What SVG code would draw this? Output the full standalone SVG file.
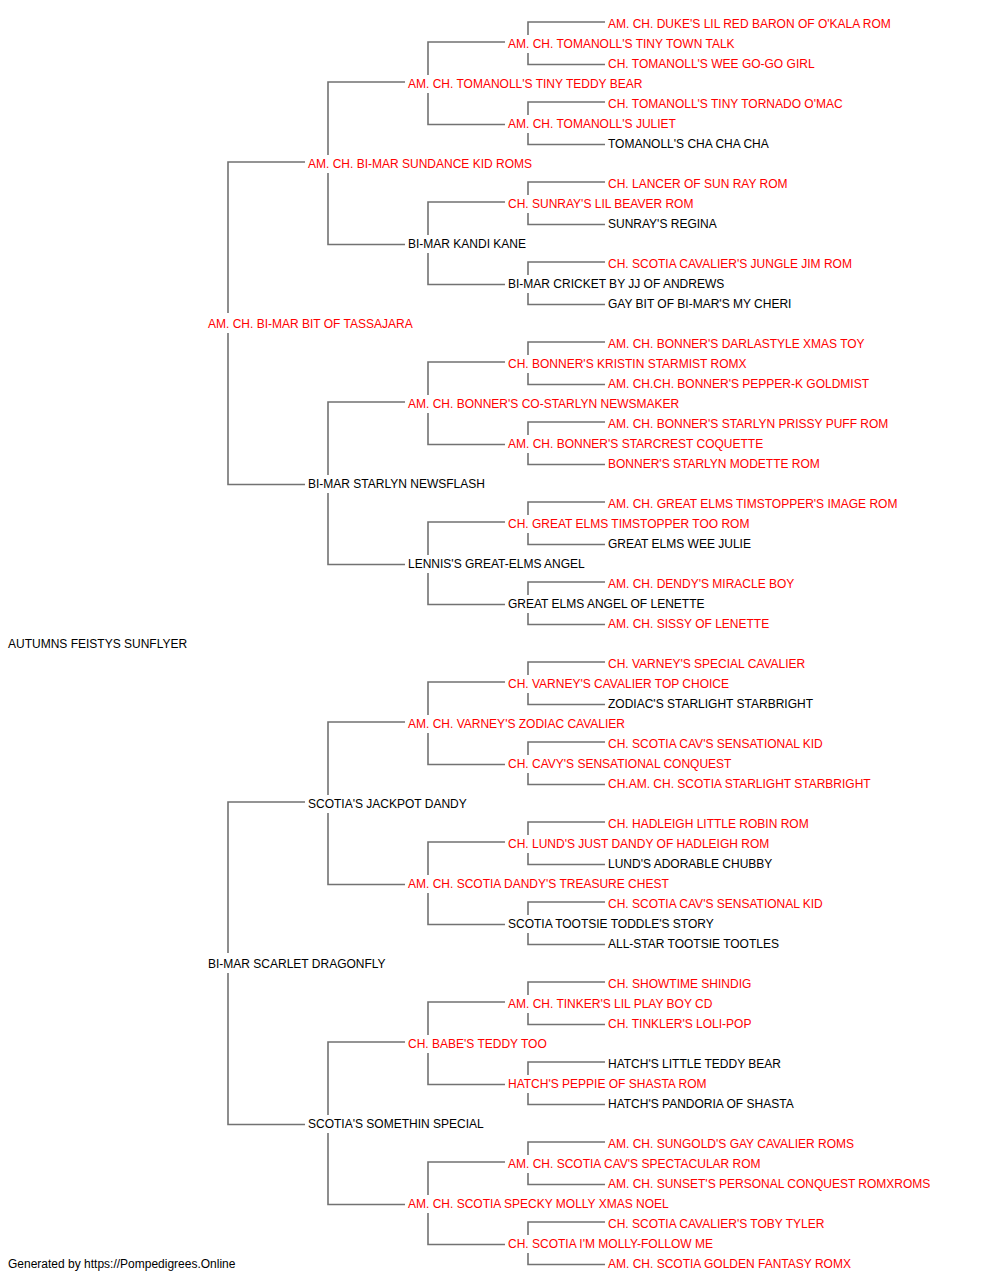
<svg xmlns="http://www.w3.org/2000/svg" width="1000" height="1280" viewBox="0 0 1000 1280">
<style>
text{font-family:"Liberation Sans",Arial,sans-serif;font-size:12px}
.r{fill:#ff0000}
.b{fill:#000000}
#connectors path{fill:none;stroke:#727272;stroke-width:1.6}
</style>
<rect x="0" y="0" width="1000" height="1280" fill="#ffffff"/>
<g id="connectors">
<path d="M228 313V162H305"/><path d="M228 333V484.5H305"/>
<path d="M228 953V802H305"/><path d="M228 973V1124.5H305"/>
<path d="M328 155V82H405"/><path d="M328 173V244.5H405"/>
<path d="M328 475V402H405"/><path d="M328 493V564.5H405"/>
<path d="M328 795V722H405"/><path d="M328 813V884.5H405"/>
<path d="M328 1115V1042H405"/><path d="M328 1133V1204.5H405"/>
<path d="M428 75V42H505"/><path d="M428 93V124.5H505"/>
<path d="M428 235V202H505"/><path d="M428 253V284.5H505"/>
<path d="M428 395V362H505"/><path d="M428 413V444.5H505"/>
<path d="M428 555V522H505"/><path d="M428 573V604.5H505"/>
<path d="M428 715V682H505"/><path d="M428 733V764.5H505"/>
<path d="M428 875V842H505"/><path d="M428 893V924.5H505"/>
<path d="M428 1035V1002H505"/><path d="M428 1053V1084.5H505"/>
<path d="M428 1195V1162H505"/><path d="M428 1213V1244.5H505"/>
<path d="M528 35V22H605"/><path d="M528 53V64.5H605"/>
<path d="M528 115V102H605"/><path d="M528 133V144.5H605"/>
<path d="M528 195V182H605"/><path d="M528 213V224.5H605"/>
<path d="M528 275V262H605"/><path d="M528 293V304.5H605"/>
<path d="M528 355V342H605"/><path d="M528 373V384.5H605"/>
<path d="M528 435V422H605"/><path d="M528 453V464.5H605"/>
<path d="M528 515V502H605"/><path d="M528 533V544.5H605"/>
<path d="M528 595V582H605"/><path d="M528 613V624.5H605"/>
<path d="M528 675V662H605"/><path d="M528 693V704.5H605"/>
<path d="M528 755V742H605"/><path d="M528 773V784.5H605"/>
<path d="M528 835V822H605"/><path d="M528 853V864.5H605"/>
<path d="M528 915V902H605"/><path d="M528 933V944.5H605"/>
<path d="M528 995V982H605"/><path d="M528 1013V1024.5H605"/>
<path d="M528 1075V1062H605"/><path d="M528 1093V1104.5H605"/>
<path d="M528 1155V1142H605"/><path d="M528 1173V1184.5H605"/>
<path d="M528 1235V1222H605"/><path d="M528 1253V1264.5H605"/>
</g>
<g id="n0"><text class="r" x="608" y="28">AM. CH. DUKE'S LIL RED BARON OF O'KALA ROM</text></g>
<g id="n1"><text class="r" x="508" y="48">AM. CH. TOMANOLL'S TINY TOWN TALK</text></g>
<g id="n2"><text class="r" x="608" y="68">CH. TOMANOLL'S WEE GO-GO GIRL</text></g>
<g id="n3"><text class="r" x="408" y="88">AM. CH. TOMANOLL'S TINY TEDDY BEAR</text></g>
<g id="n4"><text class="r" x="608" y="108">CH. TOMANOLL'S TINY TORNADO O'MAC</text></g>
<g id="n5"><text class="r" x="508" y="128">AM. CH. TOMANOLL'S JULIET</text></g>
<g id="n6"><text class="b" x="608" y="148">TOMANOLL'S CHA CHA CHA</text></g>
<g id="n7"><text class="r" x="308" y="168">AM. CH. BI-MAR SUNDANCE KID ROMS</text></g>
<g id="n8"><text class="r" x="608" y="188">CH. LANCER OF SUN RAY ROM</text></g>
<g id="n9"><text class="r" x="508" y="208">CH. SUNRAY'S LIL BEAVER ROM</text></g>
<g id="n10"><text class="b" x="608" y="228">SUNRAY'S REGINA</text></g>
<g id="n11"><text class="b" x="408" y="248">BI-MAR KANDI KANE</text></g>
<g id="n12"><text class="r" x="608" y="268">CH. SCOTIA CAVALIER'S JUNGLE JIM ROM</text></g>
<g id="n13"><text class="b" x="508" y="288">BI-MAR CRICKET BY JJ OF ANDREWS</text></g>
<g id="n14"><text class="b" x="608" y="308">GAY BIT OF BI-MAR'S MY CHERI</text></g>
<g id="n15"><text class="r" x="208" y="328">AM. CH. BI-MAR BIT OF TASSAJARA</text></g>
<g id="n16"><text class="r" x="608" y="348">AM. CH. BONNER'S DARLASTYLE XMAS TOY</text></g>
<g id="n17"><text class="r" x="508" y="368">CH. BONNER'S KRISTIN STARMIST ROMX</text></g>
<g id="n18"><text class="r" x="608" y="388">AM. CH.CH. BONNER'S PEPPER-K GOLDMIST</text></g>
<g id="n19"><text class="r" x="408" y="408">AM. CH. BONNER'S CO-STARLYN NEWSMAKER</text></g>
<g id="n20"><text class="r" x="608" y="428">AM. CH. BONNER'S STARLYN PRISSY PUFF ROM</text></g>
<g id="n21"><text class="r" x="508" y="448">AM. CH. BONNER'S STARCREST COQUETTE</text></g>
<g id="n22"><text class="r" x="608" y="468">BONNER'S STARLYN MODETTE ROM</text></g>
<g id="n23"><text class="b" x="308" y="488">BI-MAR STARLYN NEWSFLASH</text></g>
<g id="n24"><text class="r" x="608" y="508">AM. CH. GREAT ELMS TIMSTOPPER'S IMAGE ROM</text></g>
<g id="n25"><text class="r" x="508" y="528">CH. GREAT ELMS TIMSTOPPER TOO ROM</text></g>
<g id="n26"><text class="b" x="608" y="548">GREAT ELMS WEE JULIE</text></g>
<g id="n27"><text class="b" x="408" y="568">LENNIS'S GREAT-ELMS ANGEL</text></g>
<g id="n28"><text class="r" x="608" y="588">AM. CH. DENDY'S MIRACLE BOY</text></g>
<g id="n29"><text class="b" x="508" y="608">GREAT ELMS ANGEL OF LENETTE</text></g>
<g id="n30"><text class="r" x="608" y="628">AM. CH. SISSY OF LENETTE</text></g>
<g id="n31"><text class="b" x="8" y="648">AUTUMNS FEISTYS SUNFLYER</text></g>
<g id="n32"><text class="r" x="608" y="668">CH. VARNEY'S SPECIAL CAVALIER</text></g>
<g id="n33"><text class="r" x="508" y="688">CH. VARNEY'S CAVALIER TOP CHOICE</text></g>
<g id="n34"><text class="b" x="608" y="708">ZODIAC'S STARLIGHT STARBRIGHT</text></g>
<g id="n35"><text class="r" x="408" y="728">AM. CH. VARNEY'S ZODIAC CAVALIER</text></g>
<g id="n36"><text class="r" x="608" y="748">CH. SCOTIA CAV'S SENSATIONAL KID</text></g>
<g id="n37"><text class="r" x="508" y="768">CH. CAVY'S SENSATIONAL CONQUEST</text></g>
<g id="n38"><text class="r" x="608" y="788">CH.AM. CH. SCOTIA STARLIGHT STARBRIGHT</text></g>
<g id="n39"><text class="b" x="308" y="808">SCOTIA'S JACKPOT DANDY</text></g>
<g id="n40"><text class="r" x="608" y="828">CH. HADLEIGH LITTLE ROBIN ROM</text></g>
<g id="n41"><text class="r" x="508" y="848">CH. LUND'S JUST DANDY OF HADLEIGH ROM</text></g>
<g id="n42"><text class="b" x="608" y="868">LUND'S ADORABLE CHUBBY</text></g>
<g id="n43"><text class="r" x="408" y="888">AM. CH. SCOTIA DANDY'S TREASURE CHEST</text></g>
<g id="n44"><text class="r" x="608" y="908">CH. SCOTIA CAV'S SENSATIONAL KID</text></g>
<g id="n45"><text class="b" x="508" y="928">SCOTIA TOOTSIE TODDLE'S STORY</text></g>
<g id="n46"><text class="b" x="608" y="948">ALL-STAR TOOTSIE TOOTLES</text></g>
<g id="n47"><text class="b" x="208" y="968">BI-MAR SCARLET DRAGONFLY</text></g>
<g id="n48"><text class="r" x="608" y="988">CH. SHOWTIME SHINDIG</text></g>
<g id="n49"><text class="r" x="508" y="1008">AM. CH. TINKER'S LIL PLAY BOY CD</text></g>
<g id="n50"><text class="r" x="608" y="1028">CH. TINKLER'S LOLI-POP</text></g>
<g id="n51"><text class="r" x="408" y="1048">CH. BABE'S TEDDY TOO</text></g>
<g id="n52"><text class="b" x="608" y="1068">HATCH'S LITTLE TEDDY BEAR</text></g>
<g id="n53"><text class="r" x="508" y="1088">HATCH'S PEPPIE OF SHASTA ROM</text></g>
<g id="n54"><text class="b" x="608" y="1108">HATCH'S PANDORIA OF SHASTA</text></g>
<g id="n55"><text class="b" x="308" y="1128">SCOTIA'S SOMETHIN SPECIAL</text></g>
<g id="n56"><text class="r" x="608" y="1148">AM. CH. SUNGOLD'S GAY CAVALIER ROMS</text></g>
<g id="n57"><text class="r" x="508" y="1168">AM. CH. SCOTIA CAV'S SPECTACULAR ROM</text></g>
<g id="n58"><text class="r" x="608" y="1188">AM. CH. SUNSET'S PERSONAL CONQUEST ROMXROMS</text></g>
<g id="n59"><text class="r" x="408" y="1208">AM. CH. SCOTIA SPECKY MOLLY XMAS NOEL</text></g>
<g id="n60"><text class="r" x="608" y="1228">CH. SCOTIA CAVALIER'S TOBY TYLER</text></g>
<g id="n61"><text class="r" x="508" y="1248">CH. SCOTIA I'M MOLLY-FOLLOW ME</text></g>
<g id="n62"><text class="r" x="608" y="1268">AM. CH. SCOTIA GOLDEN FANTASY ROMX</text></g>
<g id="footer"><text class="b" x="8" y="1268">Generated by https://Pompedigrees.Online</text></g>
</svg>
